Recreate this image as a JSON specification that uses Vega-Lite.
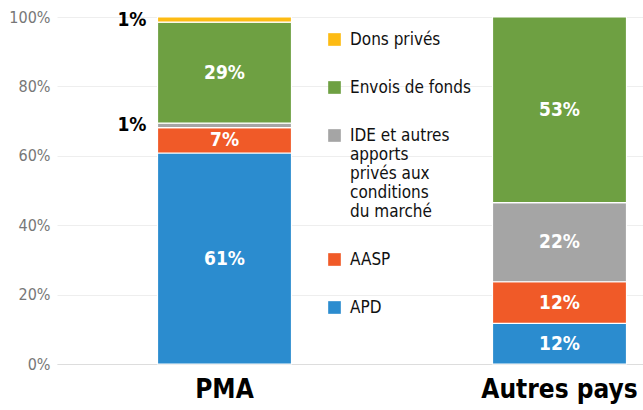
{
  "$schema": "https://vega.github.io/schema/vega-lite/v6.json",
  "width": 586,
  "height": 347,
  "autosize": {"type": "none"},
  "padding": {"left": 57, "top": 17, "right": 0, "bottom": 46},
  "background": "white",
  "config": {
    "view": {"stroke": null},
    "font": "Liberation Sans Narrow, DejaVu Sans Condensed, sans-serif"
  },
  "data": {
    "values": [
      {"pays": "PMA", "type": "APD", "v": 60.8, "o": 1, "lab": "61%"},
      {"pays": "PMA", "type": "AASP", "v": 7.3, "o": 2, "lab": "7%"},
      {"pays": "PMA", "type": "IDE et autres apports privés aux conditions du marché", "v": 1.3, "o": 3, "lab": "1%"},
      {"pays": "PMA", "type": "Envois de fonds", "v": 29.1, "o": 4, "lab": "29%"},
      {"pays": "PMA", "type": "Dons privés", "v": 1.5, "o": 5, "lab": "1%"},
      {"pays": "Autres pays", "type": "APD", "v": 11.7, "o": 1, "lab": "12%"},
      {"pays": "Autres pays", "type": "AASP", "v": 12.0, "o": 2, "lab": "12%"},
      {"pays": "Autres pays", "type": "IDE et autres apports privés aux conditions du marché", "v": 22.8, "o": 3, "lab": "22%"},
      {"pays": "Autres pays", "type": "Envois de fonds", "v": 53.5, "o": 4, "lab": "53%"}
    ]
  },
  "transform": [
    {"stack": "v", "groupby": ["pays"], "sort": [{"field": "o", "order": "ascending"}], "as": ["y0", "y1"]},
    {"calculate": "(datum.y0 + datum.y1) / 2", "as": "ym"}
  ],
  "layer": [
    {
      "mark": {"type": "bar", "stroke": "white", "strokeWidth": 1.2},
      "encoding": {
        "x": {
          "field": "pays", "type": "nominal", "sort": ["PMA", "Autres pays"],
          "scale": {"range": [0, 670], "paddingInner": 0.6, "paddingOuter": 0.3},
          "axis": {"title": null, "labelAngle": 0, "ticks": false, "domain": true, "domainColor": "#dddddd", "labelFontSize": 26, "labelFontWeight": "bold", "labelColor": "#000000", "labelPadding": 12}
        },
        "y": {
          "field": "y0", "type": "quantitative", "scale": {"domain": [0, 100]},
          "axis": {"title": null, "values": [0, 20, 40, 60, 80, 100], "labelExpr": "datum.value + '%'", "ticks": false, "domain": false, "gridColor": "#eeeeee", "labelFontSize": 16, "labelColor": "#777777", "labelPadding": 7}
        },
        "y2": {"field": "y1"},
        "color": {
          "field": "type", "type": "nominal",
          "scale": {
            "domain": ["Dons privés", "Envois de fonds", "IDE et autres apports privés aux conditions du marché", "AASP", "APD"],
            "range": ["#FDBB13", "#6EA042", "#A5A5A5", "#F05A28", "#2B8CCF"]
          },
          "legend": {
            "orient": "none", "legendX": 269, "legendY": 14, "title": null, "padding": 0,
            "symbolType": "square", "symbolSize": 160, "symbolStrokeWidth": 0,
            "labelFontSize": 17, "labelColor": "#111111", "rowPadding": 30, "labelLimit": 250, "labelOffset": 7,
            "labelExpr": "datum.label == 'IDE et autres apports privés aux conditions du marché' ? ['IDE et autres', 'apports', 'privés aux', 'conditions', 'du marché'] : datum.label"
          }
        }
      }
    },
    {
      "transform": [{"filter": "datum.v >= 3"}],
      "mark": {"type": "text", "color": "white", "fontWeight": "bold", "fontSize": 19},
      "encoding": {
        "x": {"field": "pays", "type": "nominal", "sort": ["PMA", "Autres pays"]},
        "y": {"field": "ym", "type": "quantitative"},
        "text": {"field": "lab"}
      }
    },
    {
      "transform": [{"filter": "datum.v < 3"}],
      "mark": {"type": "text", "color": "black", "fontWeight": "bold", "fontSize": 19, "align": "right", "dx": -78},
      "encoding": {
        "x": {"field": "pays", "type": "nominal", "sort": ["PMA", "Autres pays"]},
        "y": {"field": "ym", "type": "quantitative"},
        "text": {"field": "lab"}
      }
    }
  ]
}
